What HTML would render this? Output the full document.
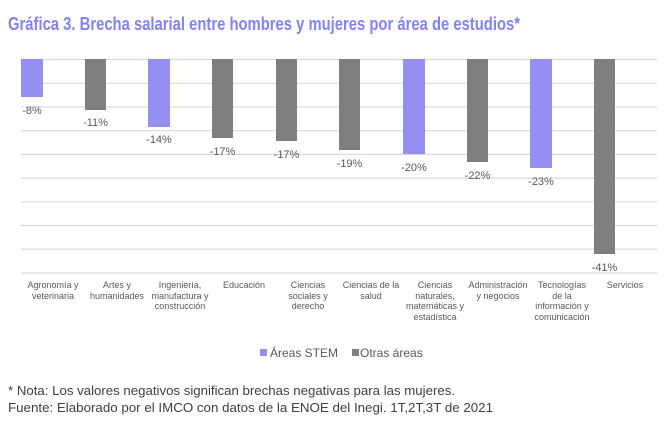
<!DOCTYPE html>
<html><head><meta charset="utf-8"><style>
body{margin:0;background:#fff;}
svg{display:block;font-family:"Liberation Sans",Arial,sans-serif;}
</style></head><body>
<svg width="665" height="423" viewBox="0 0 665 423" xmlns="http://www.w3.org/2000/svg">
<text x="8" y="30" font-size="18.5" font-weight="bold" fill="#8282f2" textLength="512" lengthAdjust="spacingAndGlyphs">Gráfica 3. Brecha salarial entre hombres y mujeres por área de estudios*</text>
<g stroke="#d9d9d9" stroke-width="1.2">
<line x1="21" x2="657" y1="59.5" y2="59.5"/><line x1="21" x2="657" y1="83.3" y2="83.3"/><line x1="21" x2="657" y1="107" y2="107"/><line x1="21" x2="657" y1="130.7" y2="130.7"/><line x1="21" x2="657" y1="154.4" y2="154.4"/><line x1="21" x2="657" y1="178.1" y2="178.1"/><line x1="21" x2="657" y1="201.8" y2="201.8"/><line x1="21" x2="657" y1="225.5" y2="225.5"/><line x1="21" x2="657" y1="249.2" y2="249.2"/><line x1="21" x2="657" y1="273" y2="273"/>
</g>
<g>
<rect x="21" y="59" width="22" height="38" fill="#958ff2"/>
<rect x="85" y="59" width="21" height="51" fill="#7f7f7f"/>
<rect x="148" y="59" width="22" height="68" fill="#958ff2"/>
<rect x="212" y="59" width="21" height="79" fill="#7f7f7f"/>
<rect x="276" y="59" width="21" height="82" fill="#7f7f7f"/>
<rect x="339" y="59" width="21" height="91" fill="#7f7f7f"/>
<rect x="403" y="59" width="22" height="95" fill="#958ff2"/>
<rect x="467" y="59" width="21" height="103" fill="#7f7f7f"/>
<rect x="530" y="59" width="22" height="109" fill="#958ff2"/>
<rect x="594" y="59" width="21" height="195" fill="#7f7f7f"/>
</g>
<g font-size="11" fill="#595959" text-anchor="middle">
<text x="32" y="114">-8%</text>
<text x="95.5" y="126">-11%</text>
<text x="159" y="143">-14%</text>
<text x="222.5" y="155">-17%</text>
<text x="286.5" y="158">-17%</text>
<text x="349.5" y="167">-19%</text>
<text x="414" y="171">-20%</text>
<text x="477.5" y="179">-22%</text>
<text x="541" y="185">-23%</text>
<text x="604.5" y="271">-41%</text>
</g>
<g font-size="9" fill="#595959" text-anchor="middle">
<text x="53" y="288">Agronomía y</text><text x="53" y="299">veterinaria</text>
<text x="117" y="288">Artes y</text><text x="117" y="299">humanidades</text>
<text x="180" y="288">Ingeniería,</text><text x="180" y="299">manufactura y</text><text x="180" y="309">construcción</text>
<text x="244" y="288">Educación</text>
<text x="308" y="288">Ciencias</text><text x="308" y="299">sociales y</text><text x="308" y="309">derecho</text>
<text x="371" y="288">Ciencias de la</text><text x="371" y="299">salud</text>
<text x="435" y="288">Ciencias</text><text x="435" y="299">naturales,</text><text x="435" y="309">matemáticas y</text><text x="435" y="320">estadística</text>
<text x="498" y="288">Administración</text><text x="498" y="299">y negocios</text>
<text x="562" y="288">Tecnologías</text><text x="562" y="299">de la</text><text x="562" y="309">información y</text><text x="562" y="320">comunicación</text>
<text x="625" y="288">Servicios</text>
</g>
<rect x="260" y="349" width="7" height="7" fill="#958ff2"/>
<text x="270" y="357" font-size="12" fill="#595959">Áreas STEM</text>
<rect x="352" y="349" width="7" height="7" fill="#7f7f7f"/>
<text x="360" y="357" font-size="12" fill="#595959">Otras áreas</text>
<text x="8" y="395" font-size="13" fill="#404040" textLength="447" lengthAdjust="spacingAndGlyphs">* Nota: Los valores negativos significan brechas negativas para las mujeres.</text>
<text x="8" y="412" font-size="13" fill="#404040" textLength="485" lengthAdjust="spacingAndGlyphs">Fuente: Elaborado por el IMCO con datos de la ENOE del Inegi. 1T,2T,3T de 2021</text>
</svg>
</body></html>
